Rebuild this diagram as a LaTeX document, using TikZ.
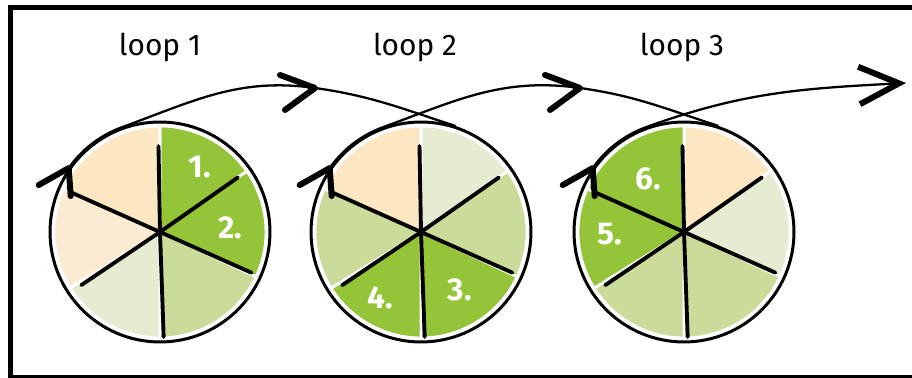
\documentclass[tikz,border=0pt]{standalone}
\usepackage{fontspec}
\setmainfont{Fira Sans}
\usetikzlibrary{arrows.meta}
\definecolor{peach}{HTML}{FDE6C2}
\definecolor{lightpeach}{HTML}{FEEBD3}
\definecolor{leafgreen}{HTML}{94C437}
\definecolor{sagegreen}{HTML}{CBDB9A}
\definecolor{palegreen}{HTML}{E5ECD2}
\tikzset{
  wheel/.style={circle,draw=black,line width=1.7pt,minimum size=4.4cm,inner sep=0pt},
  slice/.style={draw=white,line width=1.6pt},
  spoke/.style={line width=2.2pt,line cap=round,draw=black},
  loopflow/.style={line width=1.3pt,draw=black},
  barb/.style={line width=3.4pt,line cap=round,line join=round,draw=black},
  looplabel/.style={font=\fontsize{17}{20}\selectfont,text=black},
  slicenum/.style={font=\fontsize{18}{20}\selectfont\bfseries,text=white}
}

\begin{document}
\begin{tikzpicture}[x=0.02cm,y=0.02cm]
  \useasboundingbox (0,0) rectangle (912,378);
  \draw[line width=2.3pt] (912,370.5) -- (10.5,370.5) -- (10.5,1) -- (912,1);

  \node[wheel] (c1) at (160,146) {};
  \node[wheel] (c2) at (421,146) {};
  \node[wheel] (c3) at (684,146) {};

  % slices, clockwise from the top
  \foreach \s/\e/\col in {35/90/leafgreen,-25/35/leafgreen,-90/-25/sagegreen,-148/-90/palegreen,-204/-148/lightpeach,-270/-204/peach}
    \fill[slice,fill=\col] (c1.center) -- ++(\s:106) arc[start angle=\s,end angle=\e,radius=106] -- cycle;
  \foreach \s/\e/\col in {35/90/palegreen,-25/35/sagegreen,-90/-25/leafgreen,-148/-90/leafgreen,-204/-148/sagegreen,-270/-204/peach}
    \fill[slice,fill=\col] (c2.center) -- ++(\s:106) arc[start angle=\s,end angle=\e,radius=106] -- cycle;
  \foreach \s/\e/\col in {35/90/peach,-25/35/palegreen,-90/-25/sagegreen,-148/-90/sagegreen,-204/-148/leafgreen,-270/-204/leafgreen}
    \fill[slice,fill=\col] (c3.center) -- ++(\s:106) arc[start angle=\s,end angle=\e,radius=106] -- cycle;

  \foreach \w in {c1,c2,c3}
    \foreach \a/\l in {91/86,35/95,-24/100,-88/105,214/95,156/98}
      \draw[spoke] (\w.center) -- ++(\a:\l);

  \node[slicenum] (n1) at ([shift={(40,65)}]c1.center) {1.};
  \node[slicenum] (n2) at ([shift={(70,4)}]c1.center) {2.};
  \node[slicenum] (n3) at ([shift={(39,-58)}]c2.center) {3.};
  \node[slicenum] (n4) at ([shift={(-41,-66)}]c2.center) {4.};
  \node[slicenum] (n5) at ([shift={(-74,-2)}]c3.center) {5.};
  \node[slicenum] (n6) at ([shift={(-36,53)}]c3.center) {6.};

  \node[looplabel] (l1) at ([shift={(0,185)}]c1.center) {loop 1};
  \node[looplabel] (l2) at ([shift={(-6,185)}]c2.center) {loop 2};
  \node[looplabel] (l3) at ([shift={(-2,185)}]c3.center) {loop 3};

  \coordinate (m1) at (315,290);
  \coordinate (m2) at (580,290);
  \coordinate (tip) at (906,295);

  \draw[loopflow] (c1.145) arc[start angle=145,end angle=110,radius=111.5]
    to[out=20,in=172] (m1) to[out=-8,in=162] (c2.72);
  \draw[loopflow] (c2.145) arc[start angle=145,end angle=110,radius=111.5]
    to[out=20,in=172] (m2) to[out=-8,in=162] (c3.72);
  \draw[loopflow,-{Straight Barb[length=0.8cm,width=0.75cm,line width=3.4pt]}] (c3.145)
    arc[start angle=145,end angle=110,radius=111.5] to[out=20,in=183] (tip);

  \foreach \m in {m1,m2}
    \draw[barb] ([shift={(-35,13)}]\m) -- (\m) -- ([shift={(-30,-22)}]\m);
  \foreach \w in {c1,c2,c3}
    \draw[barb] ([shift={(-30,-17)}]\w.145) -- (\w.145) -- ([shift={(2,-28)}]\w.145);
\end{tikzpicture}
\end{document}
